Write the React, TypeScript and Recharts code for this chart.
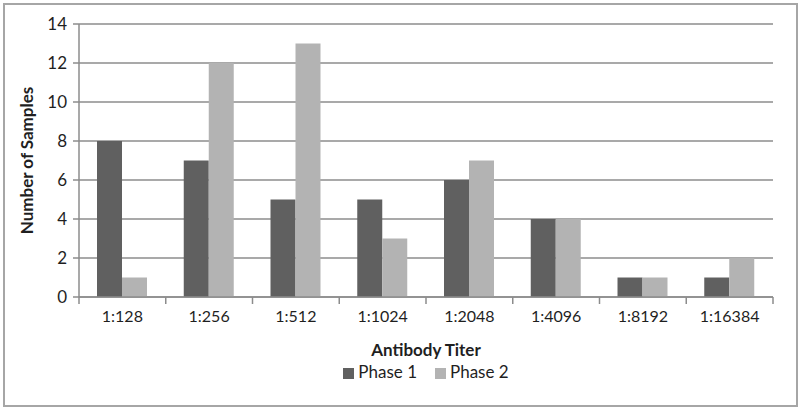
import React from "react";
import { BarChart, Bar, XAxis, YAxis, CartesianGrid, Legend } from "recharts";

const categories = ["1:128", "1:256", "1:512", "1:1024", "1:2048", "1:4096", "1:8192", "1:16384"];
const phase1 = [8, 7, 5, 5, 6, 4, 1, 1];
const phase2 = [1, 12, 13, 3, 7, 4, 1, 2];
const yTicks = [0, 2, 4, 6, 8, 10, 12, 14];

const data = categories.map((c, i) => ({ name: c, p1: phase1[i], p2: phase2[i] }));

const FONT = "Lato, 'Open Sans', sans-serif";

const XTick = (props: any) => {
  const { x, y, payload, index, visibleTicksCount } = props;
  const half = payload && payload.offset ? payload.offset : 43.4;
  const last = index === (visibleTicksCount ?? categories.length) - 1;
  const top = y - 8;
  return (
    <g>
      <line x1={x - half} x2={x - half} y1={top} y2={top + 7} stroke="#8c8c8c" strokeWidth={1.5} />
      {last && <line x1={x + half} x2={x + half} y1={top} y2={top + 7} stroke="#8c8c8c" strokeWidth={1.5} />}
      <text x={x} y={y + 17} textAnchor="middle" fontSize={16} fill="#1f1f1f" fontFamily={FONT}>
        {payload.value}
      </text>
    </g>
  );
};

export default function App() {
  return (
    <div style={{ position: "absolute", left: 0, top: 0, width: 800, height: 409, background: "#fff" }}>
      <div
        style={{
          position: "absolute",
          left: 3,
          top: 3,
          width: 791,
          height: 400,
          border: "2px solid #a6a6a6",
        }}
      />
      <div style={{ position: "absolute", left: 0, top: 0 }}>
        <BarChart
          width={800}
          height={409}
          data={data}
          margin={{ top: 24, right: 27, bottom: 0, left: 10 }}
          barGap={0}
          barSize={25}
        >
          <CartesianGrid vertical={false} stroke="#8c8c8c" strokeWidth={1.5} />
          <XAxis
            dataKey="name"
            axisLine={{ stroke: "#8c8c8c", strokeWidth: 1.5 }}
            tickLine={false}
            tick={<XTick />}
            height={112}
            interval={0}
            label={{
              value: "Antibody Titer",
              position: "insideTop",
              dy: 42,
              fontSize: 17,
              fontWeight: 700,
              fill: "#1f1f1f",
              fontFamily: FONT,
            }}
          />
          <YAxis
            domain={[0, 14]}
            ticks={yTicks}
            axisLine={{ stroke: "#8c8c8c", strokeWidth: 1.5 }}
            tickLine={{ stroke: "#8c8c8c", strokeWidth: 1.5 }}
            tickSize={6}
            width={69}
            tick={{ fontSize: 17, fill: "#1f1f1f", fontFamily: FONT, dx: -4 }}
            label={{
              value: "Number of Samples",
              angle: -90,
              position: "insideLeft",
              dx: 12,
              dy: 0,
              fontSize: 17,
              fontWeight: 700,
              fill: "#1f1f1f",
              fontFamily: FONT,
              style: { textAnchor: "middle" },
            }}
          />
          <Legend
            verticalAlign="middle"
            align="center"
            iconType="square"
            iconSize={11}
            wrapperStyle={{ top: 361, left: 88, width: 694, fontFamily: FONT, fontSize: 17 }}
            formatter={(v: string) => <span style={{ color: "#1f1f1f", marginRight: 8 }}>{v}</span>}
          />
          <Bar dataKey="p1" name="Phase 1" fill="#606060" isAnimationActive={false} />
          <Bar dataKey="p2" name="Phase 2" fill="#b3b3b3" isAnimationActive={false} />
        </BarChart>
      </div>
    </div>
  );
}
